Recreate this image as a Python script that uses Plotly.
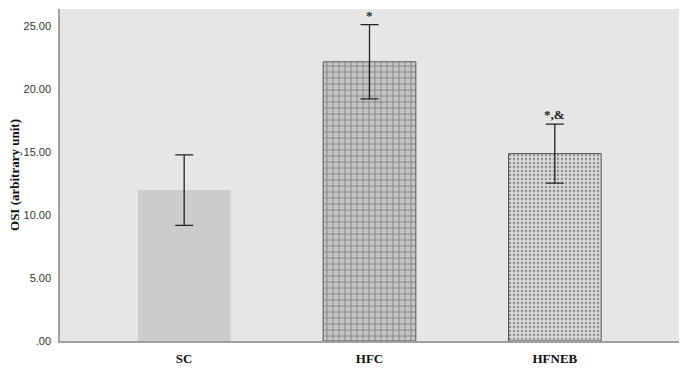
import plotly.graph_objects as go

categories = ["SC", "HFC", "HFNEB"]
means = [12.0, 22.2, 14.9]
errors = [2.8, 2.95, 2.35]
sig_labels = ["", "*", "*,&"]
tick_vals = [0, 5, 10, 15, 20, 25]
tick_text = [".00", "5.00", "10.00", "15.00", "20.00", "25.00"]

fills = ["#cccccc", "#c6c6c6", "#d6d6d6"]
shapes = ["", "+", "."]
fgs = ["#cccccc", "#888888", "#8a8a8a"]
line_colors = ["rgba(0,0,0,0)", "#555555", "#555555"]
line_widths = [0, 1, 1]

fig = go.Figure()
fig.add_trace(go.Bar(
    x=categories, y=means, width=0.5,
    marker=dict(
        color=fills,
        line=dict(color=line_colors, width=line_widths),
        pattern=dict(shape=shapes, fgcolor=fgs, bgcolor=fills, size=[8, 6, 4], solidity=[0.2, 0.3, 0.25]),
    ),
    error_y=dict(type="data", array=errors, visible=True, color="#222222", thickness=1.3, width=9),
    showlegend=False,
    hoverinfo="skip",
))

for c, m, e, s in zip(categories, means, errors, sig_labels):
    if s:
        fig.add_annotation(x=c, y=m + e, text="<b>" + s + "</b>", showarrow=False, yanchor="bottom", yshift=0,
                           font=dict(family="Liberation Serif", size=13, color="#222"))

fig.update_layout(
    width=692, height=368,
    margin=dict(l=60, r=13, t=9, b=27),
    paper_bgcolor="white", plot_bgcolor="#e6e6e6",
    xaxis=dict(range=[-0.67, 2.67], showgrid=False, ticks="", showline=True, linecolor="#a0a0a0", linewidth=2,
               tickvals=categories, ticktext=["<b>" + c + "</b>" for c in categories], automargin=False,
               tickfont=dict(family="Liberation Serif", size=13, color="#111"), ticklabelstandoff=4),
    yaxis=dict(range=[0, 26.4], tickvals=tick_vals, ticktext=tick_text, showgrid=False, zeroline=False,
               showline=True, linecolor="#a0a0a0", linewidth=1.5, ticks="", automargin=False,
               tickfont=dict(family="Liberation Sans", size=11, color="#333"), ticklabelstandoff=5,
               title=dict(text="<b>OSI (arbitrary unit)</b>", font=dict(family="Liberation Serif", size=13, color="#111"), standoff=1)),
)
fig.write_html("out.html", config={"displayModeBar": False},
               post_script="document.body.style.margin='0';document.body.style.overflow='hidden';")
